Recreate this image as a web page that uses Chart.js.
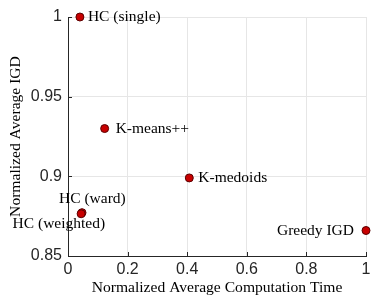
<!DOCTYPE html>
<html><head><meta charset="utf-8">
<script src="https://cdn.jsdelivr.net/npm/chart.js@4"></script>
<style>html,body{margin:0;padding:0;background:#fff;overflow:hidden}</style>
</head><body>
<canvas id="c" width="371" height="298" style="display:block;width:371px;height:298px"></canvas>
<script>
// ---- data ----
const methods = ['HC (single)', 'K-means++', 'K-medoids', 'HC (ward)', 'HC (weighted)', 'Greedy IGD'];
const timeValues = [0.040, 0.123, 0.407, 0.047, 0.044, 1.000];
const igdValues  = [1.000, 0.930, 0.899, 0.8772, 0.8765, 0.866];
const xTickValues = [0, 0.2, 0.4, 0.6, 0.8, 1];
const yTickValues = [0.85, 0.9, 0.95, 1];
const xTitle = 'Normalized Average Computation Time';
const yTitle = 'Normalized Average IGD';

// label placement (style only)
const labelStyle = [
  {dx: 8,   dy: 0,   align: 'left'},
  {dx: 11,  dy: 0,   align: 'left'},
  {dx: 9,   dy: 0,   align: 'left'},
  {dx: -23, dy: -14, align: 'left'},
  {dx: 24,  dy: 10,  align: 'right'},
  {dx: -12, dy: 0,   align: 'right'}
];

const SERIF = '"Liberation Serif", "Times New Roman", serif';
const SANS = '"Liberation Sans", Arial, sans-serif';
const AXIS = '#262626';

const points = timeValues.map((x, i) => ({x: x, y: igdValues[i]}));

const labelPlugin = {
  id: 'pointLabels',
  afterDatasetsDraw(chart) {
    const ctx = chart.ctx;
    const xs = chart.scales.x, ys = chart.scales.y;
    ctx.save();
    ctx.font = '15.5px ' + SERIF;
    ctx.fillStyle = '#000';
    ctx.textBaseline = 'middle';
    methods.forEach((m, i) => {
      const px = xs.getPixelForValue(timeValues[i]);
      const py = ys.getPixelForValue(igdValues[i]);
      const st = labelStyle[i];
      ctx.textAlign = st.align;
      ctx.fillText(m, px + st.dx, py + st.dy);
    });
    ctx.restore();
  }
};

const innerTicks = {
  id: 'innerTicks',
  beforeDatasetsDraw(chart) {
    const ctx = chart.ctx;
    const a = chart.chartArea;
    const xs = chart.scales.x, ys = chart.scales.y;
    ctx.save();
    ctx.strokeStyle = AXIS;
    ctx.lineWidth = 1;
    ctx.beginPath();
    xTickValues.forEach(v => {
      const px = Math.round(xs.getPixelForValue(v)) + 0.5;
      ctx.moveTo(px, a.bottom);
      ctx.lineTo(px, a.bottom - 4);
    });
    yTickValues.forEach(v => {
      const py = Math.round(ys.getPixelForValue(v)) + 0.5;
      ctx.moveTo(a.left, py);
      ctx.lineTo(a.left + 4, py);
    });
    ctx.stroke();
    ctx.restore();
  }
};

new Chart(document.getElementById('c'), {
  type: 'scatter',
  data: {
    datasets: [{
      data: points,
      backgroundColor: '#c80000',
      borderColor: '#5a0000',
      borderWidth: 1,
      pointRadius: 4,
      pointHoverRadius: 4,
      clip: false
    }]
  },
  options: {
    responsive: false,
    animation: false,
    devicePixelRatio: 1,
    layout: {padding: {top: 17, right: 3, left: 0, bottom: 0}},
    plugins: {legend: {display: false}, tooltip: {enabled: false}},
    scales: {
      x: {
        type: 'linear', min: 0, max: 1,
        afterBuildTicks: s => { s.ticks = xTickValues.map(v => ({value: v})); },
        afterFit: s => { s.height = 42; s.paddingRight = 0; s.paddingLeft = 0; },
        ticks: {
          color: AXIS, font: {family: SANS, size: 16}, padding: 4,
          maxRotation: 0, autoSkip: false,
          callback: v => String(v)
        },
        grid: {color: '#e6e6e6', lineWidth: 1, drawTicks: false},
        border: {color: AXIS, width: 1},
        title: {display: true, text: xTitle, color: '#000', font: {family: SERIF, size: 15.6}, padding: {top: 0, bottom: 1}}
      },
      y: {
        type: 'linear', min: 0.85, max: 1,
        afterBuildTicks: s => { s.ticks = yTickValues.map(v => ({value: v})); },
        afterFit: s => { s.width = 68; },
        ticks: {
          color: AXIS, font: {family: SANS, size: 16}, padding: 6,
          autoSkip: false,
          callback: v => String(v)
        },
        grid: {color: '#e6e6e6', lineWidth: 1, drawTicks: false},
        border: {color: AXIS, width: 1},
        title: {display: true, text: yTitle, color: '#000', font: {family: SERIF, size: 15.6}, padding: {top: 7, bottom: 0}}
      }
    }
  },
  plugins: [innerTicks, labelPlugin]
});
</script>
</body></html>
